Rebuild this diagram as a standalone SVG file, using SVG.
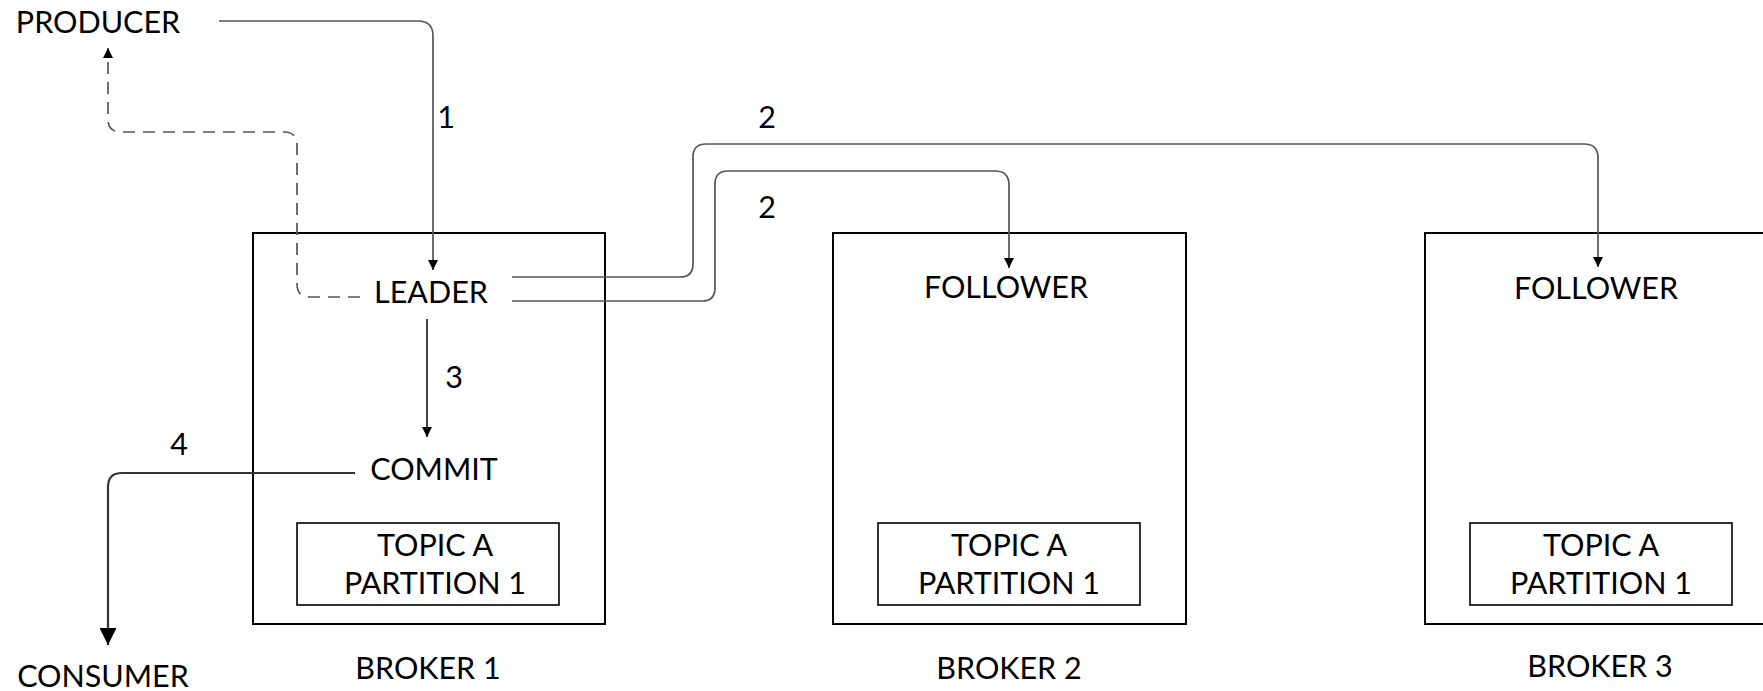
<svg xmlns="http://www.w3.org/2000/svg" width="1763" height="691" viewBox="0 0 1763 691">
<style>
text{font-family:Lato,"Liberation Sans",sans-serif;font-size:30.5px;fill:#000;text-anchor:middle;dominant-baseline:central}
.box{fill:none;stroke:#000;stroke-width:2}
.conn{fill:none;stroke:#555;stroke-width:1.7}
.dash{stroke-dasharray:12 8}
.thick{stroke:#333;stroke-width:2.2}
</style>
<defs>
<marker id="ahs" viewBox="0 0 10 10" refX="10" refY="5" markerWidth="10" markerHeight="10" markerUnits="userSpaceOnUse" orient="auto"><path d="M0,0 L10,5 L0,10 Z" fill="#000"/></marker>
<marker id="ahb" viewBox="0 0 10 10" refX="10" refY="5" markerWidth="17" markerHeight="17" markerUnits="userSpaceOnUse" orient="auto"><path d="M0,0 L10,5 L0,10 Z" fill="#000"/></marker>
</defs>
<g id="broker1">
<rect class="box" x="253" y="233" width="352" height="391"/>
<text x="428" y="667">BROKER 1</text>
</g>
<g id="broker2">
<rect class="box" x="833" y="233" width="353" height="391"/>
<text x="1009" y="667">BROKER 2</text>
</g>
<g id="broker3">
<rect class="box" x="1425" y="233" width="352" height="391"/>
<text x="1600" y="665">BROKER 3</text>
</g>
<g id="topic1">
<rect class="box" x="297" y="523" width="262" height="82" style="stroke-width:1.6"/>
<text x="435" y="544">TOPIC A</text>
<text x="435" y="582">PARTITION 1</text>
</g>
<g id="topic2">
<rect class="box" x="878" y="523" width="262" height="82" style="stroke-width:1.6"/>
<text x="1009" y="544">TOPIC A</text>
<text x="1009" y="582">PARTITION 1</text>
</g>
<g id="topic3">
<rect class="box" x="1470" y="523" width="262" height="82" style="stroke-width:1.6"/>
<text x="1601" y="544">TOPIC A</text>
<text x="1601" y="582">PARTITION 1</text>
</g>
<g id="producer"><text x="98" y="21">PRODUCER</text></g>
<g id="consumer"><text x="103" y="675">CONSUMER</text></g>
<g id="leader"><text x="431" y="291">LEADER</text></g>
<g id="commit"><text x="434" y="468">COMMIT</text></g>
<g id="follower2"><text x="1006" y="286">FOLLOWER</text></g>
<g id="follower3"><text x="1596" y="287">FOLLOWER</text></g>
<g id="connectors">
<path class="conn" d="M219,21 H418 Q433,21 433,36 V270" marker-end="url(#ahs)"/>
<path class="conn dash" d="M360,297 H310 Q297,297 297,284 V145 Q297,132 284,132 H121 Q108,132 108,119 V48" marker-end="url(#ahs)"/>
<path class="conn" d="M512,277 H680 Q693,277 693,264 V157 Q693,144 706,144 H1584 Q1598,144 1598,158 V267" marker-end="url(#ahs)"/>
<path class="conn" d="M512,301 H702 Q715,301 715,288 V184 Q715,171 728,171 H995 Q1009,171 1009,185 V268" marker-end="url(#ahs)"/>
<path class="conn" style="stroke:#222" d="M427,319 V437" marker-end="url(#ahs)"/>
<path class="conn thick" d="M355,473 H122 Q108,473 108,487 V645" marker-end="url(#ahb)"/>
<text x="446" y="116">1</text>
<text x="767" y="116">2</text>
<text x="767" y="206">2</text>
<text x="454" y="376">3</text>
<text x="179" y="443">4</text>
</g>
</svg>
